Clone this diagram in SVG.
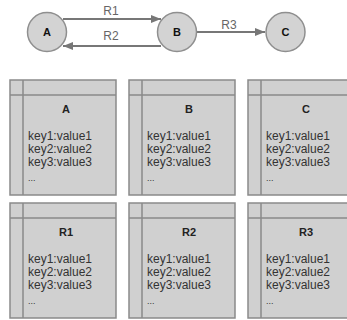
<svg xmlns="http://www.w3.org/2000/svg" width="347" height="320" viewBox="0 0 347 320">
<defs>
<style>
.nd{fill:#d3d3d3;stroke:#8f8f8f;stroke-width:1.5}
.nt{font-family:"Liberation Sans",Arial,sans-serif;font-size:11px;font-weight:bold;fill:#111;text-anchor:middle}
.ed{stroke:#777;stroke-width:2;fill:none}
.el{font-family:"Liberation Sans",Arial,sans-serif;font-size:12px;fill:#666;text-anchor:middle}
.bx{fill:#d0d0d0;stroke:#8a8a8a;stroke-width:1.5}
.ln{stroke:#8a8a8a;stroke-width:1.5}
.tt{font-family:"Liberation Sans",Arial,sans-serif;font-size:11px;font-weight:bold;fill:#222;text-anchor:middle}
.kv{font-family:"Liberation Sans",Arial,sans-serif;font-size:12px;fill:#333}
.dd{font-size:9px}
</style>
<marker id="ah" markerWidth="10" markerHeight="8" refX="10" refY="4" orient="auto" markerUnits="userSpaceOnUse">
<path d="M0,0 L10,4 L0,8 Z" fill="#777"/>
</marker>
</defs>
<g id="connectors">
<line class="ed" x1="63" y1="19" x2="161" y2="19" marker-end="url(#ah)"/>
<text class="el" x="111" y="15">R1</text>
<line class="ed" x1="161" y1="46" x2="63" y2="46" marker-end="url(#ah)"/>
<text class="el" x="111" y="40">R2</text>
<line class="ed" x1="197" y1="32" x2="265" y2="32" marker-end="url(#ah)"/>
<text class="el" x="229" y="29">R3</text>
</g>
<g id="node-A"><circle class="nd" cx="47" cy="32" r="19.5"/><text class="nt" x="47" y="36">A</text></g>
<g id="node-B"><circle class="nd" cx="177" cy="32" r="19.5"/><text class="nt" x="177" y="36">B</text></g>
<g id="node-C"><circle class="nd" cx="285.5" cy="32" r="19.5"/><text class="nt" x="285.5" y="36">C</text></g>

<g id="table-A" transform="translate(10,80)">
<rect class="bx" x="0" y="0" width="106" height="115"/><line class="ln" x1="0" y1="15" x2="106" y2="15"/><line class="ln" x1="13" y1="0" x2="13" y2="115"/>
<text class="tt" x="56" y="33">A</text>
<text class="kv" x="18" y="60">key1:value1</text><text class="kv" x="18" y="73">key2:value2</text><text class="kv" x="18" y="86">key3:value3</text><text class="kv dd" x="18" y="101">...</text>
</g>
<g id="table-B" transform="translate(129,80)">
<rect class="bx" x="0" y="0" width="106" height="115"/><line class="ln" x1="0" y1="15" x2="106" y2="15"/><line class="ln" x1="13" y1="0" x2="13" y2="115"/>
<text class="tt" x="60" y="33">B</text>
<text class="kv" x="18" y="60">key1:value1</text><text class="kv" x="18" y="73">key2:value2</text><text class="kv" x="18" y="86">key3:value3</text><text class="kv dd" x="18" y="101">...</text>
</g>
<g id="table-C" transform="translate(248,80)">
<rect class="bx" x="0" y="0" width="106" height="115"/><line class="ln" x1="0" y1="15" x2="106" y2="15"/><line class="ln" x1="13" y1="0" x2="13" y2="115"/>
<text class="tt" x="58" y="33">C</text>
<text class="kv" x="18" y="60">key1:value1</text><text class="kv" x="18" y="73">key2:value2</text><text class="kv" x="18" y="86">key3:value3</text><text class="kv dd" x="18" y="101">...</text>
</g>
<g id="table-R1" transform="translate(10,203)">
<rect class="bx" x="0" y="0" width="106" height="115"/><line class="ln" x1="0" y1="15" x2="106" y2="15"/><line class="ln" x1="13" y1="0" x2="13" y2="115"/>
<text class="tt" x="56" y="33">R1</text>
<text class="kv" x="18" y="60">key1:value1</text><text class="kv" x="18" y="73">key2:value2</text><text class="kv" x="18" y="86">key3:value3</text><text class="kv dd" x="18" y="101">...</text>
</g>
<g id="table-R2" transform="translate(129,203)">
<rect class="bx" x="0" y="0" width="106" height="115"/><line class="ln" x1="0" y1="15" x2="106" y2="15"/><line class="ln" x1="13" y1="0" x2="13" y2="115"/>
<text class="tt" x="60" y="33">R2</text>
<text class="kv" x="18" y="60">key1:value1</text><text class="kv" x="18" y="73">key2:value2</text><text class="kv" x="18" y="86">key3:value3</text><text class="kv dd" x="18" y="101">...</text>
</g>
<g id="table-R3" transform="translate(248,203)">
<rect class="bx" x="0" y="0" width="106" height="115"/><line class="ln" x1="0" y1="15" x2="106" y2="15"/><line class="ln" x1="13" y1="0" x2="13" y2="115"/>
<text class="tt" x="58" y="33">R3</text>
<text class="kv" x="18" y="60">key1:value1</text><text class="kv" x="18" y="73">key2:value2</text><text class="kv" x="18" y="86">key3:value3</text><text class="kv dd" x="18" y="101">...</text>
</g>
</svg>
